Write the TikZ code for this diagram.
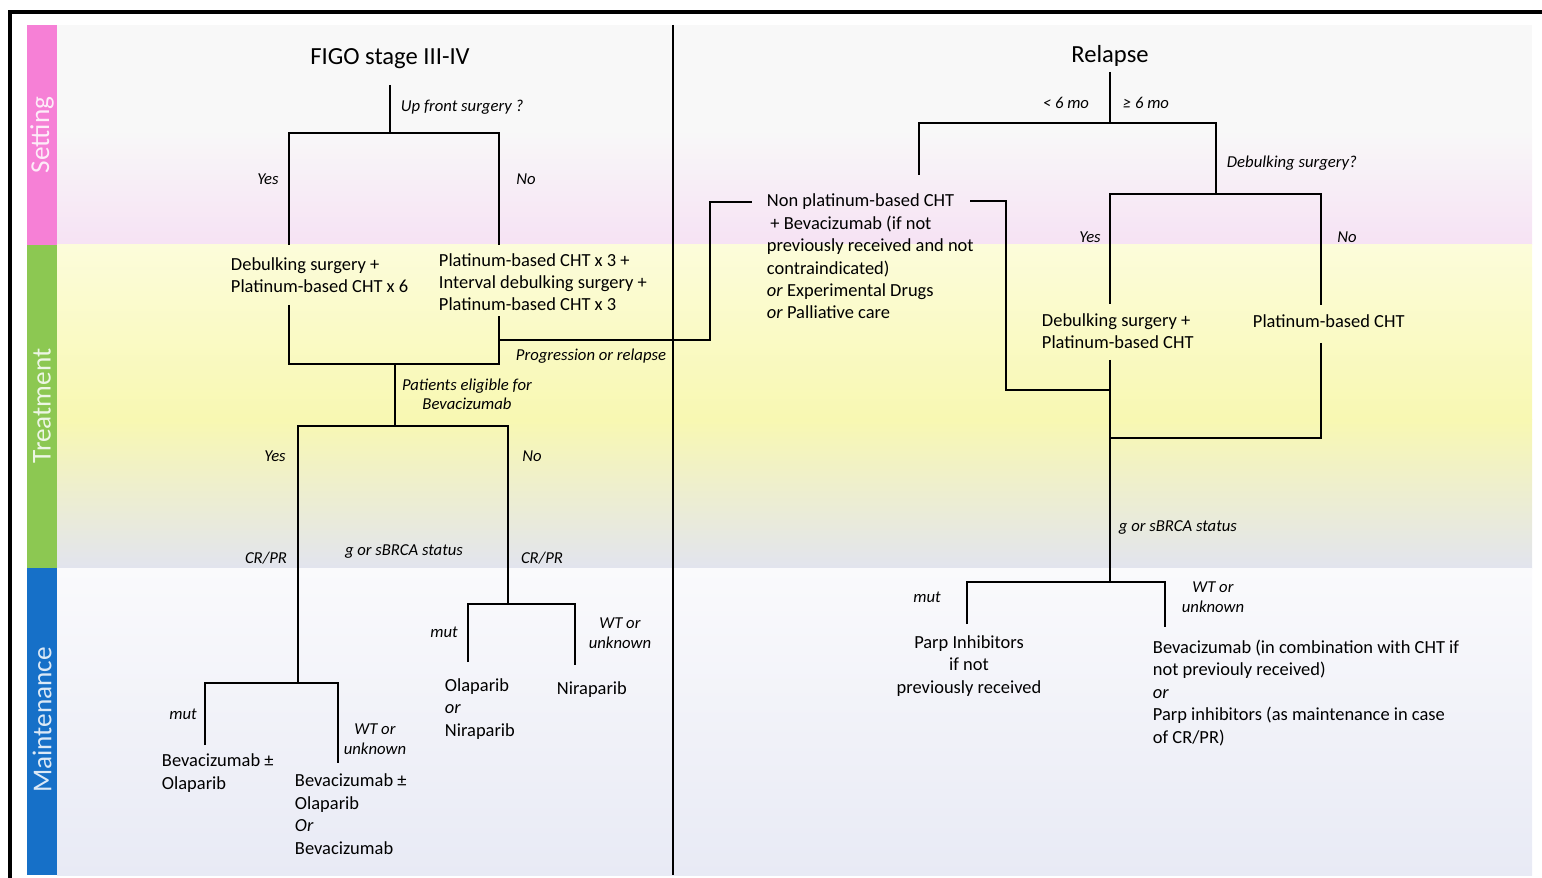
\documentclass[tikz,border=0pt]{standalone}
\usepackage{fontspec}
\setmainfont{Carlito}
\usetikzlibrary{positioning}

\definecolor{bandPink}{RGB}{246,128,214}
\definecolor{bandGreen}{RGB}{140,200,82}
\definecolor{bandBlue}{RGB}{22,112,200}
\definecolor{setTop}{RGB}{248,248,248}
\definecolor{setBot}{RGB}{246,226,244}
\definecolor{trtTop}{RGB}{252,252,218}
\definecolor{trtMid}{RGB}{248,248,178}
\definecolor{trtBot}{RGB}{226,228,238}
\definecolor{mntTop}{RGB}{250,250,252}
\definecolor{mntBot}{RGB}{232,234,245}

\begin{document}
\begin{tikzpicture}[
    % Global options: pixel-like units, line width, text styles
    x=0.02cm, y=-0.02cm,
    line width=1.1pt,
    txt/.style={font=\fontsize{10.5}{12.8}\selectfont, inner sep=0pt, align=left, anchor=base west},
    ctxt/.style={font=\fontsize{10.5}{12.8}\selectfont, inner sep=0pt, align=center, anchor=base},
    lbl/.style={font=\fontsize{9.5}{11.3}\selectfont\itshape, inner sep=0pt, align=center, anchor=base},
    llbl/.style={lbl, align=left, anchor=base west},
    ttl/.style={font=\fontsize{14}{16}\selectfont, inner sep=0pt, anchor=base},
    band/.style={rotate=90, text=white, text opacity=0.85, font=\fontsize{15.5}{18}\selectfont, inner sep=0pt},
  ]
    \useasboundingbox (0,0) rectangle (1542,878);

    % --- Background rows ---
    \fill[setTop] (57,25) rectangle (1532,130);
    \shade[top color=setTop, bottom color=setBot] (57,130) rectangle (1532,245);
    \shade[top color=trtTop, bottom color=trtMid] (57,245) rectangle (1532,420);
    \shade[top color=trtMid, bottom color=trtBot] (57,420) rectangle (1532,568);
    \shade[top color=mntTop, bottom color=mntBot] (57,568) rectangle (1532,875);

    % --- Coloured side bands ---
    \fill[bandPink] (27,25) rectangle (57,245);
    \fill[bandGreen] (27,245) rectangle (57,568);
    \fill[bandBlue] (27,568) rectangle (57,875);
    \node[band] (setting) at (42,135) {Setting};
    \node[band] (treatment) at (42,406) {Treatment};
    \node[band] (maint) at (42,720) {Maintenance};

    % --- Frame and divider ---
    \draw[line width=1.8pt] (10,878) -- (10,12) -- (1542,12);
    \draw[line width=0.9pt] (673,25) -- (673,875);

    % --- Titles ---
    \node[ttl] (figo) at (390,65) {FIGO stage III-IV};
    \node[ttl] (relapse) at (1110,63) {Relapse};

    % --- Left tree: text (y = baseline of last line) ---
    \node[llbl] (upfront) at (400,112) {Up front surgery ?};
    \node[lbl] (yes1) at (268,185) {Yes};
    \node[lbl] (no1) at (526,185) {No};
    \node[txt] (debulk) at (230,293) {Debulking surgery +\\Platinum-based CHT x 6};
    \node[txt] (interval) at (438,311) {Platinum-based CHT x 3 +\\Interval debulking surgery +\\Platinum-based CHT x 3};
    \node[llbl] (prog) at (515,361) {Progression or relapse};
    \node[lbl] (eligible) at (467,410) {Patients eligible for\\Bevacizumab};
    \node[lbl] (yes2) at (275,461) {Yes};
    \node[lbl] (no2) at (532,461) {No};
    \node[lbl] (crpr1) at (266,563) {CR/PR};
    \node[lbl] (brca1) at (404,555) {g or sBRCA status};
    \node[lbl] (crpr2) at (542,563) {CR/PR};
    \node[lbl] (mut2) at (444,637) {mut};
    \node[lbl] (wt2) at (620,648) {WT or\\unknown};
    \node[txt] (olanira) at (444,736) {Olaparib\\\textit{or}\\Niraparib};
    \node[txt] (nira) at (556,694) {Niraparib};
    \node[lbl] (mut1) at (183,719) {mut};
    \node[lbl] (wt1) at (375,754) {WT or\\unknown};
    \node[txt] (bevola) at (161,789) {Bevacizumab ±\\Olaparib};
    \node[txt] (bevor) at (294,854) {Bevacizumab ±\\Olaparib\\\textit{Or}\\Bevacizumab};

    % --- Right tree: text ---
    \node[lbl] (lt6) at (1066,109) {< 6 mo};
    \node[lbl] (ge6) at (1146,109) {≥ 6 mo};
    \node[llbl] (debq) at (1226,168) {Debulking surgery?};
    \node[lbl] (yes3) at (1090,243) {Yes};
    \node[lbl] (no3) at (1347,243) {No};
    \node[txt] (nonplat) at (766,319) {Non platinum-based CHT\\\hspace{2pt}+ Bevacizumab (if not\\previously received and not\\contraindicated)\\\textit{or} Experimental Drugs\\\textit{or} Palliative care};
    \node[txt] (rdebulk) at (1041,349) {Debulking surgery +\\Platinum-based CHT};
    \node[txt] (rplat) at (1252,328) {Platinum-based CHT};
    \node[llbl] (brca2) at (1118,531) {g or sBRCA status};
    \node[lbl] (mut3) at (927,602) {mut};
    \node[lbl] (wt3) at (1213,612) {WT or\\unknown};
    \node[ctxt] (parp) at (969,693) {Parp Inhibitors\\if not\\previously received};
    \node[txt] (bevcomb) at (1152,743) {Bevacizumab (in combination with CHT if\\not previouly received)\\\textit{or}\\Parp inhibitors (as maintenance in case\\of CR/PR)};

    % --- Left tree: branch points ---
    \coordinate (figoA) at (390,85);
    \coordinate (upJ) at (390,133);
    \coordinate (yesEnd) at (289,245);
    \coordinate (noEnd) at (499,245);
    \coordinate (debA) at (289,305);
    \coordinate (intA) at (499,316);
    \coordinate (eligJ) at (395,364);
    \coordinate (progA) at (499,340);
    \coordinate (progB) at (710,202);
    \coordinate (nonW) at (752,202);
    \coordinate (bevJ) at (395,426);
    \coordinate (subJ1) at (298,683);
    \coordinate (subJ2) at (508,604);
    \coordinate (olaA) at (468,662);
    \coordinate (niraA) at (575,665);
    \coordinate (bevolaA) at (205,745);
    \coordinate (bevorA) at (338,763);

    % --- Left tree: connectors ---
    \draw (figoA) -- (upJ);
    \draw (yesEnd) |- (upJ) -| (noEnd);
    \draw (debA) |- (eligJ) -| (intA);
    \draw (progA) -| (progB) -- (nonW);
    \draw (eligJ) -- (bevJ);
    \draw (subJ1) |- (bevJ) -| (subJ2);
    \draw (olaA) |- (subJ2) -| (niraA);
    \draw (bevolaA) |- (subJ1) -| (bevorA);

    % --- Right tree: branch points ---
    \coordinate (relA) at (1110,72);
    \coordinate (relJ) at (1110,123);
    \coordinate (nonA) at (919,175);
    \coordinate (debqJ) at (1216,194);
    \coordinate (rYesEnd) at (1110,304);
    \coordinate (rNoEnd) at (1321,305);
    \coordinate (nonE) at (970,201);
    \coordinate (nonB) at (1006,390);
    \coordinate (merge1) at (1110,390);
    \coordinate (rdebA) at (1110,360);
    \coordinate (rplatA) at (1321,343);
    \coordinate (merge2) at (1110,438);
    \coordinate (brcaJ) at (1110,582);
    \coordinate (parpA) at (967,624);
    \coordinate (bevcombA) at (1165,627);

    % --- Right tree: connectors ---
    \draw (relA) -- (relJ);
    \draw (nonA) |- (relJ) -| (debqJ);
    \draw (rYesEnd) |- (debqJ) -| (rNoEnd);
    \draw (nonE) -| (nonB) -- (merge1);
    \draw (rdebA) -- (brcaJ);
    \draw (rplatA) |- (merge2);
    \draw (parpA) |- (brcaJ) -| (bevcombA);
  \end{tikzpicture}
\end{document}
